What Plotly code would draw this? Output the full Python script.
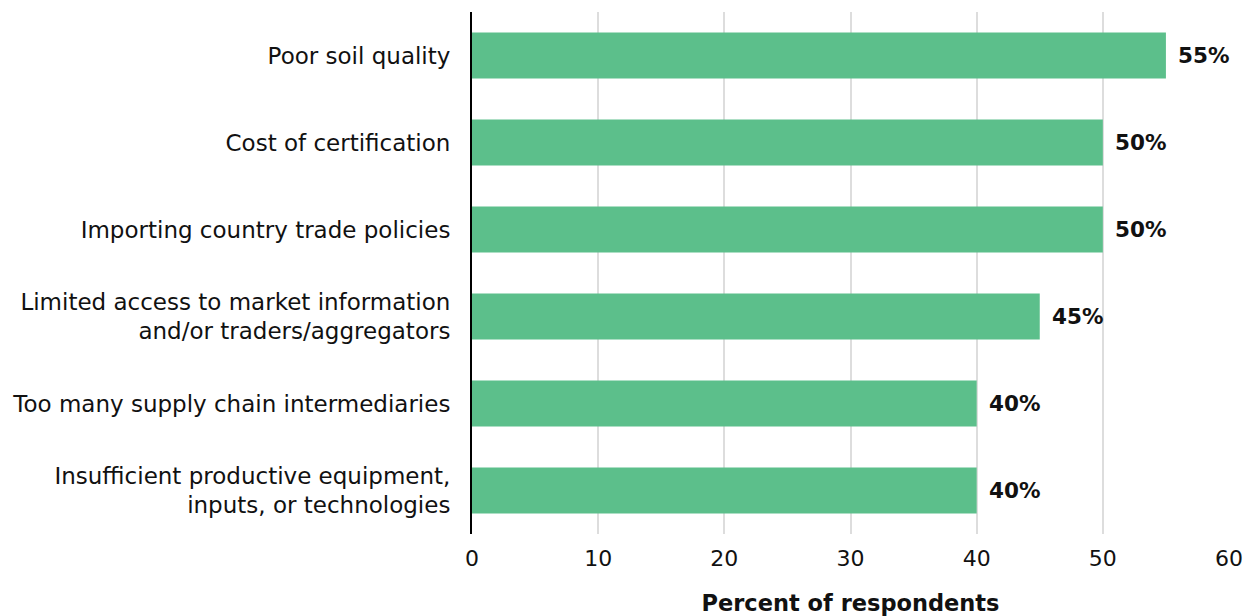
import plotly.graph_objects as go

categories = [
    "Poor soil quality",
    "Cost of certification",
    "Importing country trade policies",
    "Limited access to market information<br>and/or traders/aggregators",
    "Too many supply chain intermediaries",
    "Insufficient productive equipment,<br>inputs, or technologies",
]
values = [55, 50, 50, 45, 40, 40]
labels = [f"{v}%" for v in values]

FONT = "'DejaVu Sans', 'Open Sans', sans-serif"

fig = go.Figure(go.Bar(
    y=categories,
    x=values,
    orientation="h",
    marker=dict(color="#5cbf8b", line=dict(width=0)),
    width=0.53,
    hoverinfo="skip",
))

for c, v, t in zip(categories, values, labels):
    fig.add_annotation(
        x=v, y=c, text=f"<b>{t}</b>", showarrow=False,
        xanchor="left", yanchor="middle", xshift=10,
        font=dict(family=FONT, size=21.5, color="#111111"),
    )

fig.update_layout(
    width=1248, height=616,
    margin=dict(l=472, r=19, t=12, b=82),
    plot_bgcolor="white", paper_bgcolor="white",
    showlegend=False,
    font=dict(family=FONT, size=21, color="#111111"),
    xaxis=dict(
        range=[0, 60], dtick=10, tick0=0,
        showgrid=True, gridcolor="#dddddd", gridwidth=1.5,
        zeroline=False, showline=False, automargin=False,
        ticks="outside", ticklen=5, tickcolor="rgba(0,0,0,0)",
        tickfont=dict(family=FONT, size=22, color="#111111"),
        title=dict(text="<b>Percent of respondents</b>", standoff=24,
                   font=dict(family=FONT, size=22.5, color="#111111")),
    ),
    yaxis=dict(
        categoryorder="array", categoryarray=categories[::-1],
        autorange=False, range=[-0.5, 5.5], automargin=False,
        showline=True, linecolor="black", linewidth=2,
        showgrid=False, ticks="outside", ticklen=15, tickcolor="rgba(0,0,0,0)",
        tickfont=dict(family=FONT, size=23, color="#111111"),
    ),
)

fig.write_html("out.html", config={"displayModeBar": False},
               post_script="document.body.style.margin='0';")
